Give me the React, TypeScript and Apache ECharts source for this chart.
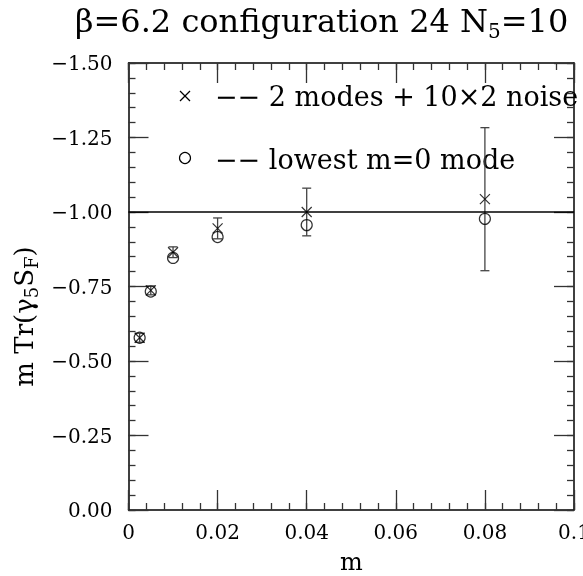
import React, { useEffect, useRef } from "react";
import * as echarts from "echarts";

const mValues = [0.0025, 0.005, 0.01, 0.02, 0.04, 0.08];
const crossValues = [-0.578, -0.737, -0.865, -0.945, -1.0, -1.043];
const crossErrors = [0.015, 0.015, 0.018, 0.035, 0.08, 0.24];
const circleValues = [-0.578, -0.733, -0.846, -0.916, -0.956, -0.977];
const xTicks = [0, 0.02, 0.04, 0.06, 0.08, 0.1];
const xTickLabels = ["0", "0.02", "0.04", "0.06", "0.08", "0.1"];
const yTicks = [-1.5, -1.25, -1.0, -0.75, -0.5, -0.25, 0];
const yTickLabels = ["\u22121.50", "\u22121.25", "\u22121.00", "\u22120.75", "\u22120.50", "\u22120.25", "0.00"];
const referenceLine = -1.0;
const legendLabels = ["\u2212\u2212 2 modes + 10\u00d72 noise", "\u2212\u2212 lowest m=0 mode"];

const FONT = "DejaVu Serif";

function pickLabel(v: number, ticks: number[], labels: string[]) {
  let best = 0;
  for (let i = 0; i < ticks.length; i++) {
    if (Math.abs(ticks[i] - v) < Math.abs(ticks[best] - v)) best = i;
  }
  return labels[best];
}

export default function App() {
  const ref = useRef<HTMLDivElement>(null);
  useEffect(() => {
    if (!ref.current) return;
    const chart = echarts.init(ref.current, undefined, { renderer: "svg" });
    const axisLineStyle = { color: "#000", width: 1.5 };
    const tickStyle = { color: "#333", width: 1.3 };

    const xMin = xTicks[0];
    const xMax = xTicks[xTicks.length - 1];
    const xStep = xTicks[1] - xTicks[0];
    const yMin = yTicks[0];
    const yMax = yTicks[yTicks.length - 1];
    const yStep = yTicks[1] - yTicks[0];

    const mkX = (position: string, minor: boolean, extra: any = {}) => ({
      type: "value",
      min: xMin,
      max: xMax,
      interval: minor ? xStep / 5 : xStep,
      position,
      splitLine: { show: false },
      axisLine: { show: !minor, onZero: false, lineStyle: axisLineStyle },
      axisTick: { show: true, inside: true, length: minor ? 7 : 20, lineStyle: tickStyle },
      axisLabel: { show: false },
      ...extra,
    });
    const mkY = (position: string, minor: boolean, extra: any = {}) => ({
      type: "value",
      min: yMin,
      max: yMax,
      interval: minor ? yStep / 5 : yStep,
      inverse: true,
      position,
      splitLine: { show: false },
      axisLine: { show: !minor, onZero: false, lineStyle: axisLineStyle },
      axisTick: { show: true, inside: true, length: minor ? 7 : 20, lineStyle: tickStyle },
      axisLabel: { show: false },
      ...extra,
    });

    const option: any = {
      animation: false,
      title: {
        text: "{n|\u03b2=6.2 configuration 24 N}{s|5}{n|=10}",
        left: 70,
        top: -4,
        textStyle: {
          rich: {
            n: { fontFamily: FONT, fontSize: 32, fontWeight: "normal", color: "#000" },
            s: { fontFamily: FONT, fontSize: 20, fontWeight: "normal", color: "#000", padding: [20, 0, 0, 0] },
          },
        },
      },
      grid: { left: 128.5, right: 9, top: 63, bottom: 66, outerBoundsMode: "none", containLabel: false },
      xAxis: [
        mkX("bottom", false, {
          axisLabel: {
            show: true,
            fontFamily: FONT,
            color: "#000",
            fontSize: 20,
            margin: 12,
            formatter: (v: number) => pickLabel(v, xTicks, xTickLabels),
          },
          name: "m",
          nameLocation: "middle",
          nameGap: 40,
          nameTextStyle: { fontFamily: FONT, color: "#000", fontSize: 24 },
        }),
        mkX("top", false),
        mkX("bottom", true),
        mkX("top", true),
      ],
      yAxis: [
        mkY("left", false, {
          axisLabel: {
            show: true,
            fontFamily: FONT,
            color: "#000",
            fontSize: 20,
            margin: 16,
            formatter: (v: number) => pickLabel(v, yTicks, yTickLabels),
          },
          name: "{n|m Tr(\u03b3}{s|5}{n|S}{s|F}{n|)}",
          nameLocation: "middle",
          nameGap: 84,
          nameRotate: 90,
          nameTextStyle: {
            padding: [0, 60, 0, 0],
            rich: {
              n: { fontFamily: FONT, fontSize: 26, color: "#000" },
              s: { fontFamily: FONT, fontSize: 18, color: "#000", padding: [15, 0, 0, 0] },
            },
          },
        }),
        mkY("right", false),
        mkY("left", true),
        mkY("right", true),
      ],
      series: [
        {
          type: "custom",
          xAxisIndex: 0,
          yAxisIndex: 0,
          data: mValues.map((m, i) => [m, crossValues[i] - crossErrors[i], crossValues[i] + crossErrors[i]]),
          encode: { x: 0, y: [1, 2] },
          renderItem: (params: any, api: any) => {
            const x = api.value(0);
            const p1 = api.coord([x, api.value(1)]);
            const p2 = api.coord([x, api.value(2)]);
            const cap = 4.5;
            const style = { stroke: "#444", lineWidth: 1.3, fill: "none" };
            return {
              type: "group",
              children: [
                { type: "line", shape: { x1: p1[0], y1: p1[1], x2: p2[0], y2: p2[1] }, style },
                { type: "line", shape: { x1: p1[0] - cap, y1: p1[1], x2: p1[0] + cap, y2: p1[1] }, style },
                { type: "line", shape: { x1: p2[0] - cap, y1: p2[1], x2: p2[0] + cap, y2: p2[1] }, style },
              ],
            };
          },
          z: 2,
        },
        {
          type: "scatter",
          name: legendLabels[0],
          xAxisIndex: 0,
          yAxisIndex: 0,
          data: mValues.map((m, i) => [m, crossValues[i]]),
          symbol: "path://M0,0L10,10M10,0L0,10",
          symbolSize: 10,
          itemStyle: { color: "transparent", borderColor: "#000", borderWidth: 1.2 },
          z: 3,
        },
        {
          type: "scatter",
          name: legendLabels[1],
          xAxisIndex: 0,
          yAxisIndex: 0,
          data: mValues.map((m, i) => [m, circleValues[i]]),
          symbol: "circle",
          symbolSize: 11,
          itemStyle: { color: "transparent", borderColor: "#000", borderWidth: 1.2 },
          z: 3,
          markLine: {
            silent: true,
            symbol: ["none", "none"],
            label: { show: false },
            lineStyle: { color: "#000", width: 1.5, type: "solid" },
            data: [{ yAxis: referenceLine }],
          },
        },
      ],
      graphic: [
        { type: "line", shape: { x1: 180, y1: 91, x2: 190, y2: 101 }, style: { stroke: "#000", lineWidth: 1.2 } },
        { type: "line", shape: { x1: 190, y1: 91, x2: 180, y2: 101 }, style: { stroke: "#000", lineWidth: 1.2 } },
        { type: "circle", shape: { cx: 185, cy: 158, r: 5.5 }, style: { stroke: "#000", fill: "none", lineWidth: 1.2 } },
        {
          type: "text",
          x: 215,
          y: 96,
          style: {
            text: legendLabels[0],
            font: `27px "${FONT}"`,
            fill: "#000",
            align: "left",
            verticalAlign: "middle",
            textAlign: "left",
            textVerticalAlign: "middle",
          },
        },
        {
          type: "text",
          x: 215,
          y: 159,
          style: {
            text: legendLabels[1],
            font: `27px "${FONT}"`,
            fill: "#000",
            align: "left",
            verticalAlign: "middle",
            textAlign: "left",
            textVerticalAlign: "middle",
          },
        },
      ],
    };
    chart.setOption(option);
    return () => chart.dispose();
  }, []);
  return <div ref={ref} style={{ position: "fixed", left: 0, top: 0, width: 583, height: 576 }} />;
}
